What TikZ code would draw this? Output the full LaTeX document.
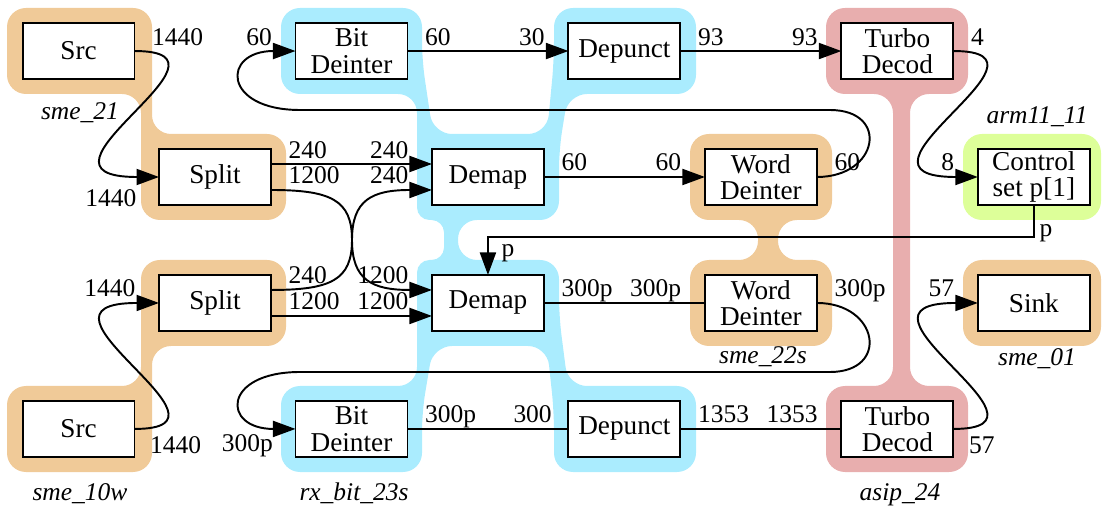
\documentclass[tikz,border=0pt]{standalone}
\usepackage{fontspec}
\setmainfont{Liberation Serif}
\usetikzlibrary{%
    arrows.meta,%
    positioning
    }
\definecolor{clorange}{RGB}{240,202,152}
\definecolor{clblue}{RGB}{170,236,254}
\definecolor{clpink}{RGB}{232,174,174}
\definecolor{clgreen}{RGB}{221,255,153}
\tikzset{
  block/.style={
    rectangle,
    draw,
    fill=white,
    line width=1.1pt,
    minimum width=2.24cm,
    minimum height=1.12cm,
    inner sep=1pt,
    outer sep=0pt,
    align=center,
    font=\fontsize{15.5}{15}\selectfont,
  },
  cluster/.style={
    rounded corners=0.38cm,
  },
  clabel/.style={
    anchor=base,
    font=\fontsize{14.5}{13}\selectfont\itshape,
  },
  arrow/.style={
    ->,
    line width=1.1pt,
    >={Triangle[length=0.45cm,width=0.32cm]},
  },
  link/.style={
    line width=1.1pt,
  },
  lbl/.style={
    inner sep=1pt,
    font=\fontsize{14.5}{13}\selectfont,
  },
  tl/.style={lbl, anchor=base west, xshift=0.3cm, yshift=0.12cm},
  tlb/.style={lbl, anchor=north west, xshift=0.26cm, yshift=-0.1cm},
  hl/.style={lbl, anchor=base east, xshift=-0.42cm, yshift=0.12cm},
  hlb/.style={lbl, anchor=north east, xshift=-0.4cm, yshift=-0.2cm},
}

\begin{document}
\begin{tikzpicture}[x=0.02cm, y=-0.02cm, node distance=1.4cm and 0.49cm]
\useasboundingbox (0,0) rectangle (1102,506);

% clusters
\fill[cluster, clorange]
  (7,8) -- (152,8) -- (152,134) -- (286,134) -- (286,220)
  -- (141,220) -- (141,94) -- (7,94) -- cycle;
\fill[cluster, clorange]
  (141,260) -- (286,260) -- (286,346) -- (152,346) -- (152,472)
  -- (7,472) -- (7,386) -- (141,386) -- cycle;
\fill[cluster, clblue]
  (281,8) -- (422,8) -- (422,60) -- (433,134) -- (547,134) -- (554,60)
  -- (554,8) -- (696,8) -- (696,94) -- (568,94) -- (559,150) -- (559,220)
  -- (458,220) -- (458,260) -- (559,260) -- (559,316) -- (568,386)
  -- (696,386) -- (696,472) -- (554,472) -- (554,412) -- (547,346)
  -- (433,346) -- (422,412) -- (422,472) -- (281,472) -- (281,386)
  -- (417,386) [rounded corners=0.25cm] -- (417,260) -- (444,260)
  -- (444,220) -- (417,220) [rounded corners=0.38cm]
  -- (417,94) -- (281,94) -- cycle;
\fill[cluster, clorange]
  (690,134) -- (832,134) -- (832,220) -- (778,220) -- (778,260)
  -- (832,260) -- (832,346) -- (690,346) -- (690,260) -- (758,260)
  -- (758,220) -- (690,220) -- cycle;
\fill[cluster, clpink]
  (826,8) -- (968,8) -- (968,94) -- (910,94) -- (910,386) -- (968,386)
  -- (968,472) -- (826,472) -- (826,386) -- (893,386) -- (893,94)
  -- (826,94) -- cycle;
\fill[cluster, clgreen] (963,134) rectangle (1101,220);
\fill[cluster, clorange] (963,260) rectangle (1101,346);

\node[clabel] (lsme21) at (80,120) {sme\_21};
\node[clabel] (lsme10w) at (80,500) {sme\_10w};
\node[clabel] (lrxbit) at (354,500) {rx\_bit\_23s};
\node[clabel] (lasip) at (900,500) {asip\_24};
\node[clabel] (lsme22s) at (763,364) {sme\_22s};
\node[clabel] (lsme01) at (1037,366) {sme\_01};
\node[clabel] (larm) at (1037,124) {arm11\_11};

% blocks
\node[block] (split1) at (215,177) {Split};
\node[block, above left=of split1] (src1) {Src};
\node[block, below=of split1] (split2) {Split};
\node[block, below left=of split2] (src2) {Src};
\node[block, above right=of split1] (bit1) {Bit\\Deinter};
\node[block, below right=of bit1] (demap1) {Demap};
\node[block, below=of demap1] (demap2) {Demap};
\node[block, below left=of demap2] (bit2) {Bit\\Deinter};
\node[block, above right=of demap1] (dep1) {Depunct};
\node[block, below right=of demap2] (dep2) {Depunct};
\node[block, below right=of dep1] (word1) {Word\\Deinter};
\node[block, below=of word1] (word2) {Word\\Deinter};
\node[block, above right=of word1] (turbo1) {Turbo\\Decod};
\node[block, below right=of word2] (turbo2) {Turbo\\Decod};
\node[block, below right=of turbo1] (ctrl) {Control\\set p[1]};
\node[block, below=of ctrl] (sink) {Sink};

\coordinate (xing) at (352,240);

% connectors
\draw[arrow] (src1.east) node[tl]{1440}
  .. controls +(120,0) and +(-150,0) .. (split1.west) node[hlb]{1440};
\draw[arrow] (src2.east) node[tlb]{1440}
  .. controls +(120,0) and +(-150,0) .. (split2.west) node[hl]{1440};
\draw[arrow] ([yshift=0.26cm]split1.east) node[tl]{240}
  -- ([yshift=0.26cm]demap1.west) node[hl]{240};
\draw[arrow] ([yshift=-0.26cm]split1.east) node[tl]{1200}
  .. controls +(60,0) and +(0,-40) .. (xing)
  .. controls +(0,40) and +(-60,0) .. ([yshift=0.26cm]demap2.west) node[hl]{1200};
\draw[arrow] ([yshift=0.26cm]split2.east) node[tl]{240}
  .. controls +(60,0) and +(0,40) .. (xing)
  .. controls +(0,-40) and +(-60,0) .. ([yshift=-0.26cm]demap1.west) node[hl]{240};
\draw[arrow] ([yshift=-0.26cm]split2.east) node[tl]{1200}
  -- ([yshift=-0.26cm]demap2.west) node[hl]{1200};
\draw[arrow] (bit1.east) node[tl]{60} -- (dep1.west) node[hl]{30};
\draw[arrow] (dep1.east) node[tl]{93} -- (turbo1.west) node[hl]{93};
\draw[arrow] (turbo1.east) node[tl]{4}
  .. controls +(120,0) and +(-150,0) .. (ctrl.west) node[hl]{8};
\draw[arrow] (demap1.east) node[tl]{60} -- (word1.west) node[hl]{60};
\draw[arrow] (word1.east) node[tl]{60}
  .. controls +(62,0) and (890,110) .. (830,110) -- (300,110)
  .. controls (222,110) and +(-74,0) .. (bit1.west) node[hl]{60};
\draw[arrow] (ctrl.south) node[lbl, anchor=base west, xshift=0.06cm, yshift=-0.64cm]{p}
  -- ++(0,32) -| (demap2.north)
  node[lbl, anchor=base west, xshift=0.22cm, yshift=0.36cm]{p};
\draw[link] (demap2.east) node[tl]{300p} -- (word2.west) node[hl]{300p};
\draw[arrow] (word2.east) node[tl]{300p}
  .. controls +(62,0) and (890,372) .. (830,372) -- (300,372)
  .. controls (222,372) and +(-74,0) .. (bit2.west) node[hlb, yshift=0.14cm]{300p};
\draw[link] (bit2.east) node[tl]{300p} -- (dep2.west) node[hl, xshift=0.14cm]{300};
\draw[link] (dep2.east) node[tl]{1353} -- (turbo2.west) node[hl]{1353};
\draw[arrow] (turbo2.east) node[tlb]{57}
  .. controls +(120,0) and +(-150,0) .. (sink.west) node[hl]{57};
\end{tikzpicture}
\end{document}
